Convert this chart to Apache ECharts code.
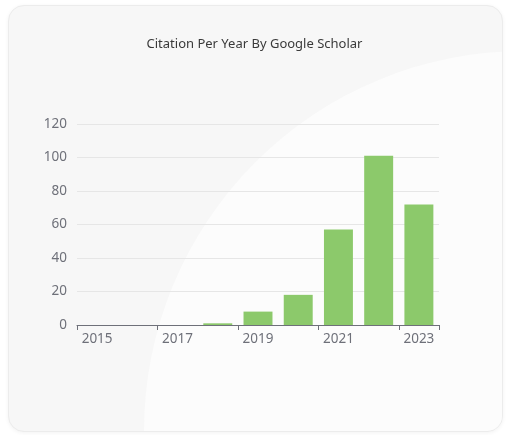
<!DOCTYPE html>
<html>
<head>
<meta charset="utf-8">
<script src="https://cdn.jsdelivr.net/npm/echarts@6/dist/echarts.min.js"></script>
<style>
  html, body { margin: 0; padding: 0; width: 509px; height: 435px; background: #ffffff; overflow: hidden; }
  #card {
    position: absolute; left: 8px; top: 5px; width: 493px; height: 425px;
    border-radius: 16px; border: 1px solid #ececec;
    background: #f7f7f7; overflow: hidden;
    box-shadow: 0 1px 4px rgba(0,0,0,0.05);
  }
  #swoosh {
    position: absolute; left: 135px; top: 45px; width: 760px; height: 760px;
    border-radius: 50%; background: #fcfcfc;
  }
  #chart { position: absolute; left: 0; top: 0; width: 509px; height: 435px; }
</style>
</head>
<body>
<div id="card"><div id="swoosh"></div></div>
<div id="chart"></div>
<script>
const years = ['2015', '2016', '2017', '2018', '2019', '2020', '2021', '2022', '2023'];
const citations = [0, 0, 0, 1, 8, 18, 57, 101, 72];
const titleText = 'Citation Per Year By Google Scholar';

const chart = echarts.init(document.getElementById('chart'), null, { renderer: 'canvas' });
chart.setOption({
  backgroundColor: 'transparent',
  animation: false,
  title: {
    text: titleText,
    left: 'center',
    top: 33,
    textStyle: { fontFamily: 'Noto Sans', fontSize: 13, fontWeight: 'normal', color: '#3a3a3a' }
  },
  grid: { left: 77, right: 70, top: 124, bottom: 110, containLabel: false },
  xAxis: {
    type: 'category',
    data: years,
    axisLine: { show: true, lineStyle: { color: '#6e7079' } },
    axisTick: { show: true, interval: 1, length: 5, lineStyle: { color: '#6e7079' } },
    axisLabel: { interval: 1, fontFamily: 'Noto Sans', fontSize: 13.5, color: '#6e7079', margin: 7 }
  },
  yAxis: {
    type: 'value',
    min: 0, max: 120, interval: 20,
    axisLabel: { fontFamily: 'Noto Sans', fontSize: 13.5, color: '#6e7079', margin: 10 },
    splitLine: { lineStyle: { color: '#e6e6e6' } }
  },
  series: [{
    type: 'bar',
    data: citations,
    barCategoryGap: '28%',
    itemStyle: { color: '#8cc96b' }
  }]
});
</script>
</body>
</html>
